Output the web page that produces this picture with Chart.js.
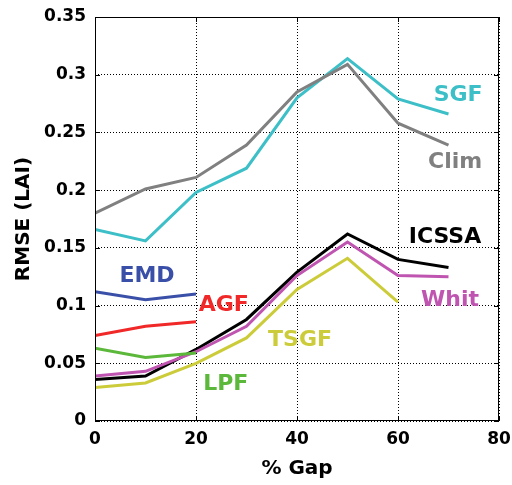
<!DOCTYPE html>
<html>
<head>
<meta charset="utf-8">
<script src="https://cdn.jsdelivr.net/npm/chart.js@4.4.0/dist/chart.umd.min.js"></script>
<style>
  body { margin: 0; background: #fff; }
  #wrap { width: 512px; height: 485px; }
</style>
</head>
<body>
<div id="wrap"><canvas id="chart" width="512" height="485"></canvas></div>
<script>
// % gap
const gaps = [0, 10, 20, 30, 40, 50, 60, 70];

// RMSE (LAI) per method
const sgf   = [0.166, 0.156, 0.198, 0.219, 0.280, 0.314, 0.279, 0.266];
const clim  = [0.180, 0.201, 0.211, 0.239, 0.285, 0.309, 0.258, 0.239];
const icssa = [0.036, 0.039, 0.062, 0.088, 0.129, 0.162, 0.140, 0.133];
const whit  = [0.039, 0.043, 0.060, 0.082, 0.126, 0.155, 0.126, 0.125];
const tsgf  = [0.029, 0.033, 0.050, 0.072, 0.114, 0.141, 0.103];
const emd   = [0.112, 0.105, 0.110];
const agf   = [0.074, 0.082, 0.086];
const lpf   = [0.063, 0.055, 0.059];

const xTicks = [0, 20, 40, 60, 80];
const yTicks = [0, 0.05, 0.1, 0.15, 0.2, 0.25, 0.3, 0.35];

const FONT = '"DejaVu Sans", Verdana, sans-serif';

function pts(arr) {
    return arr.map(function (v, i) { return { x: gaps[i], y: v }; });
}

function line(name, arr, color) {
    return {
        label: name,
        data: pts(arr),
        borderColor: color,
        backgroundColor: color,
        borderWidth: 3,
        pointRadius: 0,
        tension: 0,
        fill: false
    };
}

// текстовые подписи линий (в координатах данных)
const labelsPos = [
    { text: 'SGF',   x: 71.9, y: 0.282, color: '#3dbfc7' },
    { text: 'Clim',  x: 71.3, y: 0.224, color: '#808080' },
    { text: 'ICSSA', x: 69.3, y: 0.159, color: '#000000' },
    { text: 'Whit',  x: 70.3, y: 0.105, color: '#bf55b0' },
    { text: 'EMD',   x: 10.3, y: 0.125, color: '#3a50a8' },
    { text: 'AGF',   x: 25.5, y: 0.100, color: '#f02828' },
    { text: 'TSGF',  x: 40.6, y: 0.070, color: '#cccc3a' },
    { text: 'LPF',   x: 25.9, y: 0.032, color: '#5cb83a' }
];

const frame = {
    id: 'frame',
    afterDatasetsDraw(chart) {
        const c = chart.ctx, a = chart.chartArea;
        const sx = chart.scales.x, sy = chart.scales.y;
        c.save();
        c.strokeStyle = '#000';
        c.lineWidth = 1;
        c.strokeRect(a.left + 0.5, a.top + 0.5, a.right - a.left - 1, a.bottom - a.top - 1);
        // засечки внутрь с обеих сторон
        c.beginPath();
        xTicks.forEach(function (t) {
            const px = Math.round(sx.getPixelForValue(t)) + 0.5;
            c.moveTo(px, a.bottom); c.lineTo(px, a.bottom - 5);
            c.moveTo(px, a.top); c.lineTo(px, a.top + 5);
        });
        yTicks.forEach(function (t) {
            const py = Math.round(sy.getPixelForValue(t)) + 0.5;
            c.moveTo(a.left, py); c.lineTo(a.left + 5, py);
            c.moveTo(a.right, py); c.lineTo(a.right - 5, py);
        });
        c.stroke();
        c.font = 'bold 22px ' + FONT;
        c.textAlign = 'center';
        c.textBaseline = 'middle';
        labelsPos.forEach(function (l) {
            c.fillStyle = l.color;
            c.fillText(l.text, sx.getPixelForValue(l.x), sy.getPixelForValue(l.y));
        });
        c.restore();
    }
};

const tickFont = { family: FONT, size: 17, weight: 'bold' };
const titleFont = { family: FONT, size: 20, weight: 'bold' };

new Chart(document.getElementById('chart'), {
    type: 'line',
    data: {
        datasets: [
            line('Clim', clim, '#808080'),
            line('SGF', sgf, '#3dbfc7'),
            line('EMD', emd, '#3a50a8'),
            line('AGF', agf, '#f02828'),
            line('LPF', lpf, '#5cb83a'),
            line('TSGF', tsgf, '#cccc3a'),
            line('Whit', whit, '#bf55b0'),
            line('ICSSA', icssa, '#000000')
        ]
    },
    options: {
        responsive: false,
        animation: false,
        layout: { padding: { top: 17, right: 13, left: 0, bottom: 0 } },
        plugins: { legend: { display: false }, tooltip: { enabled: false } },
        scales: {
            x: {
                type: 'linear',
                min: 0, max: 80,
                afterBuildTicks: function (s) { s.ticks = xTicks.map(function (v) { return { value: v }; }); },
                afterFit: function (s) { s.height = 64; s.paddingRight = 0; s.paddingLeft = 0; },
                grid: { color: '#000', lineWidth: 1, drawTicks: false },
                border: { display: false, dash: [1, 2] },
                ticks: { color: '#000', font: tickFont, padding: 8, maxRotation: 0 },
                title: { display: true, text: '% Gap', color: '#000', padding: { top: 4 }, font: titleFont }
            },
            y: {
                min: 0, max: 0.35,
                afterBuildTicks: function (s) { s.ticks = yTicks.map(function (v) { return { value: v }; }); },
                afterFit: function (s) { s.width = 95; s.paddingTop = 0; s.paddingBottom = 0; },
                grid: { color: '#000', lineWidth: 1, drawTicks: false },
                border: { display: false, dash: [1, 2] },
                ticks: { color: '#000', font: tickFont, padding: 9,
                    callback: function (v) { return String(+v.toFixed(2)); } },
                title: { display: true, text: 'RMSE (LAI)', color: '#000', padding: { top: 12, bottom: 0 }, font: titleFont }
            }
        }
    },
    plugins: [frame]
});
</script>
</body>
</html>
